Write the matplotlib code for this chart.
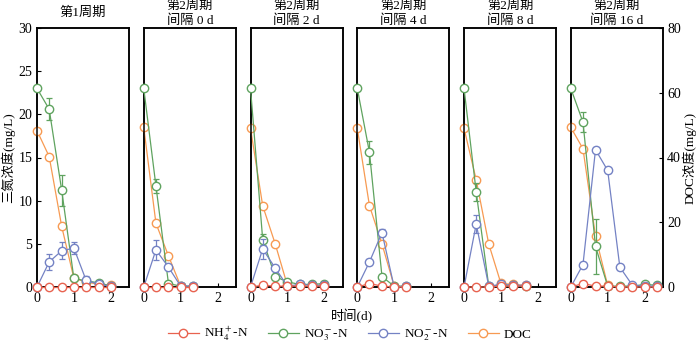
import matplotlib
matplotlib.use("Agg")
import matplotlib.pyplot as plt
from matplotlib.lines import Line2D

plt.rcParams['font.family'] = ['Liberation Serif', 'Noto Sans CJK SC']
plt.rcParams['mathtext.fontset'] = 'stix'

titles = ["第1周期", "第2周期\n间隔 0 d", "第2周期\n间隔 2 d", "第2周期\n间隔 4 d",
          "第2周期\n间隔 8 d", "第2周期\n间隔 16 d"]

times = [
    [0, 0.33, 0.67, 1.0, 1.33, 1.67, 2.0],
    [0, 0.33, 0.67, 1.0, 1.33],
    [0, 0.33, 0.67, 1.0, 1.33, 1.67, 2.0],
    [0, 0.33, 0.67, 1.0, 1.33],
    [0, 0.33, 0.67, 1.0, 1.33, 1.67],
    [0, 0.33, 0.67, 1.0, 1.33, 1.67, 2.0, 2.33],
]
# three-nitrogen concentrations (mg/L, left axis)
nh4 = [
    [0, 0.0, 0.0, 0.0, 0.0, 0.0, 0.0],
    [0, 0.0, 0.0, 0.0, 0.0],
    [0, 0.2, 0.1, 0.1, 0.1, 0.1, 0.1],
    [0, 0.4, 0.1, 0.0, 0.0],
    [0, 0.0, 0.0, 0.1, 0.1, 0.1],
    [0, 0.4, 0.1, 0.1, 0.0, 0.0, 0.0, 0.0],
]
nh4_err = [
    [0, 0.1, 0.1, 0.1, 0.1, 0.1, 0.1],
    [0, 0.1, 0.1, 0.1, 0.1],
    [0, 0.2, 0.1, 0.1, 0.1, 0.1, 0.1],
    [0, 0.3, 0.1, 0.1, 0.1],
    [0, 0.1, 0.1, 0.1, 0.1, 0.1],
    [0, 0.3, 0.1, 0.1, 0.1, 0.1, 0.1, 0.1],
]
no3 = [
    [23.0, 20.6, 11.2, 1.0, 0.7, 0.5, 0.1],
    [23.0, 11.7, 0.4, 0.1, 0.1],
    [23.0, 5.5, 1.2, 0.6, 0.3, 0.3, 0.4],
    [23.0, 15.6, 1.2, 0.1, 0.1],
    [23.0, 11.0, 0.1, 0.2, 0.2, 0.1],
    [23.0, 19.1, 4.7, 0.1, 0.1, 0.1, 0.3, 0.2],
]
no3_err = [
    [0, 1.3, 1.8, 0.2, 0.2, 0.2, 0.1],
    [0, 0.8, 0.3, 0.1, 0.1],
    [0, 0.6, 0.3, 0.2, 0.2, 0.2, 0.2],
    [0, 1.3, 0.3, 0.1, 0.1],
    [0, 1.0, 0.1, 0.2, 0.2, 0.1],
    [0, 1.2, 3.2, 0.1, 0.1, 0.1, 0.3, 0.2],
]
no2 = [
    [0, 2.9, 4.2, 4.5, 0.8, 0.3, 0.1],
    [0, 4.3, 2.3, 0.1, 0.1],
    [0, 4.4, 2.2, 0.1, 0.3, 0.2, 0.2],
    [0, 2.9, 6.3, 0.0, 0.1],
    [0, 7.3, 0.1, 0.3, 0.2, 0.2],
    [0, 2.6, 15.9, 13.5, 2.3, 0.2, 0.1, 0.1],
]
no2_err = [
    [0, 0.9, 1.0, 0.7, 0.5, 0.2, 0.1],
    [0, 1.2, 0.3, 0.1, 0.1],
    [0, 1.2, 0.4, 0.1, 0.2, 0.2, 0.2],
    [0, 0.3, 0.4, 0.1, 0.1],
    [0, 1.0, 0.1, 0.2, 0.2, 0.2],
    [0, 0.3, 0.3, 0.3, 0.3, 0.2, 0.2, 0.1],
]
# DOC concentrations (mg/L, right axis)
doc = [
    [48.3, 40.3, 18.7, 2.7, 1.6, 0.8, 0.5],
    [49.3, 19.7, 9.6, 0.3],
    [49.0, 25.1, 13.3, 0.5],
    [49.0, 25.1, 13.3, 0.3],
    [49.0, 33.1, 13.3, 1.1, 0.8, 0.5],
    [49.3, 42.7, 15.7, 0.5],
]

c_nh4 = '#e8624f'
c_no3 = '#5fa35f'
c_no2 = '#7482c4'
c_doc = '#f79a52'

fig = plt.figure(figsize=(7.0, 3.46), dpi=100)
gs = fig.add_gridspec(1, 6, left=37/700, right=663/700, top=1-28/346,
                      bottom=1-287/346, wspace=0.158)

lw = 0.9
ms = 6
for i in range(6):
    ax = fig.add_subplot(gs[0, i])
    ax2 = ax.twinx()
    t = times[i]
    kw = dict(marker='o', ms=ms, mfc='white', lw=lw, capsize=2.5,
              elinewidth=0.9, capthick=0.9, clip_on=False)
    ax2.plot(times[i][:len(doc[i])], doc[i], color=c_doc, marker='o', ms=ms,
             mfc='white', lw=lw, clip_on=False, zorder=3)
    ax.errorbar(t, no3[i], yerr=no3_err[i], color=c_no3, zorder=3, **kw)
    ax.errorbar(t, no2[i], yerr=no2_err[i], color=c_no2, zorder=4, **kw)
    ax.errorbar(t, nh4[i], yerr=nh4_err[i], color=c_nh4, zorder=5, **kw)
    ax.set_zorder(ax2.get_zorder() + 1)
    ax.patch.set_visible(False)

    ax.set_xlim(0, 2.5)
    ax.set_ylim(0, 30)
    ax2.set_ylim(0, 80)
    ax.set_xticks([0, 1, 2])
    ax.tick_params(direction='in', labelsize=10, length=3, width=0.8)
    ax2.tick_params(direction='in', labelsize=10, length=3, width=0.8, pad=3)
    for a in (ax, ax2):
        for s in a.spines.values():
            s.set_linewidth(1.1)
    if i == 0:
        ax.set_yticks([0, 5, 10, 15, 20, 25, 30])
        ax.set_ylabel('三氮浓度(mg/L)', fontsize=9.5, labelpad=2)
    else:
        ax.set_yticks([])
    if i == 5:
        ax2.set_yticks([0, 20, 40, 60, 80])
        ax2.set_ylabel('DOC浓度(mg/L)', fontsize=9.5, labelpad=1)
    else:
        ax2.set_yticks([])
    parts = titles[i].split('\n')
    if len(parts) == 1:
        ax.text(0.5, 1.0 + 15/259, parts[0], transform=ax.transAxes,
                ha='center', va='center', fontsize=9.5)
    else:
        ax.text(0.5, 1.0 + 22/259, parts[0], transform=ax.transAxes,
                ha='center', va='center', fontsize=9.5)
        ax.text(0.5, 1.0 + 7/259, parts[1], transform=ax.transAxes,
                ha='center', va='center', fontsize=9.5)
    if i == 3:
        ax.set_xlabel('时间(d)', fontsize=9.5)
        ax.xaxis.set_label_coords(-0.06, -0.085)

handles = [Line2D([], [], color=c, marker='o', mfc='white', ms=ms, lw=lw)
           for c in (c_nh4, c_no3, c_no2, c_doc)]
labels = [r'NH$_4^+$-N', r'NO$_3^-$-N', r'NO$_2^-$-N', 'DOC']
fig.legend(handles, labels, loc='center', bbox_to_anchor=(0.5, 1-334/346),
           ncol=4, frameon=False, fontsize=9.5, handlelength=2.3,
           columnspacing=1.5, handletextpad=0.4)

fig.savefig('out.png', dpi=100)
